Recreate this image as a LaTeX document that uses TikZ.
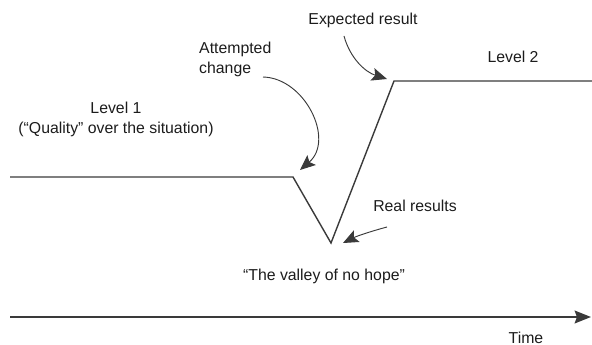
\documentclass[tikz,border=0pt]{standalone}
\usepackage{fontspec}
\setmainfont{Liberation Sans}
\usetikzlibrary{arrows.meta,positioning}
\definecolor{vInk}{HTML}{3A3A3A}
\definecolor{vText}{HTML}{1C1C1C}
\tikzset{
    vLabel/.style={
        font=\fontsize{13.5}{16.5}\selectfont,
        text=vText,
        inner sep=0pt,
        align=center
    },
    % Lines and arrows
    vLine/.style={draw=vInk, line width=1.2pt, line join=miter},
    vAxis/.style={draw=vInk, line width=1.2pt, -{Stealth[length=14pt,width=11pt,inset=2pt]}},
    vArrow/.style={draw=vInk, line width=0.8pt, -{Stealth[length=13pt,width=11pt,inset=2.5pt]}}
}
\begin{document}
\begin{tikzpicture}[x=0.03cm, y=-0.03cm]
    \useasboundingbox (0,0) rectangle (592,345);

    % the two levels and the dip between them
    \coordinate (l1start) at (10,177);
    \coordinate (dip) at (293,177);
    \coordinate (valley) at (331,243);
    \coordinate (rise) at (394,81);
    \coordinate (l2end) at (592,81);
    \draw[vLine] (l1start) -- (dip) -- (valley) -- (rise) -- (l2end);

    % time axis
    \coordinate (t0) at (10,317);
    \coordinate (t1) at (591,317);
    \draw[vAxis] (t0) -- (t1);

    % labels
    \node[vLabel, anchor=base] (expected) at (363,25) {Expected result};
    \node[vLabel, anchor=north west, align=left] (attempted) at (199,42) {Attempted\\change};
    \node[vLabel, anchor=base] (level2) at (513,63) {Level 2};
    \node[vLabel, anchor=north] (level1) at (116,102) {Level 1\\(“Quality” over the situation)};
    \node[vLabel, anchor=base] (real) at (415,212) {Real results};
    \node[vLabel, anchor=base] (valleytext) at (324,280) {“The valley of no hope”};
    \node[vLabel, anchor=base] (time) at (526,343) {Time};

    % pointers
    \coordinate (expFrom) at (344,36);
    \coordinate (expTo) at (387,79);
    \coordinate (attFrom) at (263,77);
    \coordinate (attTo) at (300,170);
    \coordinate (realFrom) at (387,227);
    \coordinate (realTo) at (343,243);
    \draw[vArrow] (expFrom) .. controls (350,58) and (365,72) .. (expTo);
    \draw[vArrow] (attFrom) .. controls (305,78) and (335,140) .. (attTo);
    \draw[vArrow] (realFrom) .. controls (372,231) and (357,236) .. (realTo);
\end{tikzpicture}
\end{document}
